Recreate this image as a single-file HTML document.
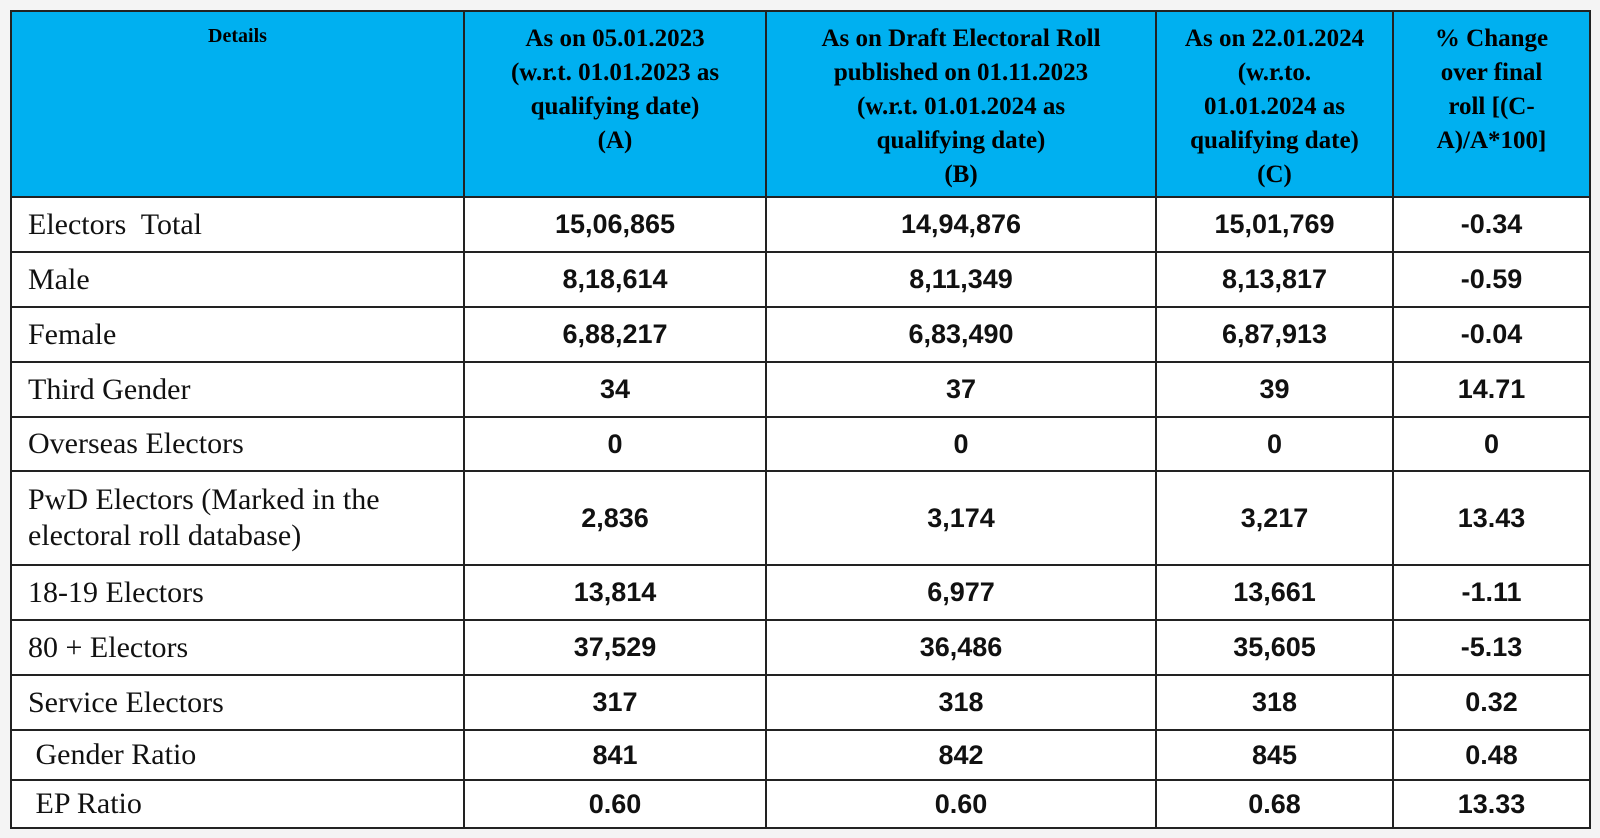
<!DOCTYPE html>
<html><head><meta charset="utf-8"><style>
html,body{margin:0;padding:0;background:#f4f4f4;width:1600px;height:838px;overflow:hidden}
table{position:absolute;left:10px;top:10px;border-collapse:collapse;table-layout:fixed;background:#fff}
td,th{border:2px solid #222;padding:0;box-sizing:border-box}
th{background:#00b0f0;font-family:"Liberation Serif",serif;font-weight:bold;font-size:25px;line-height:34px;vertical-align:top;padding-top:10px;color:#000}
th.d{font-size:20px;line-height:24px;padding-top:12px}
td{font-family:"Liberation Sans",sans-serif;font-weight:bold;font-size:27px;text-align:center;color:#111}
td.l{font-family:"Liberation Serif",serif;font-weight:normal;font-size:30px;text-align:left;padding-left:16px;line-height:36px}
</style></head><body>
<table>
<colgroup><col style="width:453px"><col style="width:302px"><col style="width:390px"><col style="width:237px"><col style="width:197px"></colgroup>
<tr style="height:186px"><th class="d">Details</th><th>As on 05.01.2023<br>(w.r.t. 01.01.2023 as<br>qualifying date)<br>(A)</th><th>As on Draft Electoral Roll<br>published on 01.11.2023<br>(w.r.t. 01.01.2024 as<br>qualifying date)<br>(B)</th><th>As on 22.01.2024<br>(w.r.to.<br>01.01.2024 as<br>qualifying date)<br>(C)</th><th>% Change<br>over final<br>roll [(C-<br>A)/A*100]</th></tr>
<tr style="height:55px"><td class="l">Electors&nbsp; Total</td><td>15,06,865</td><td>14,94,876</td><td>15,01,769</td><td>-0.34</td></tr>
<tr style="height:55px"><td class="l">Male</td><td>8,18,614</td><td>8,11,349</td><td>8,13,817</td><td>-0.59</td></tr>
<tr style="height:55px"><td class="l">Female</td><td>6,88,217</td><td>6,83,490</td><td>6,87,913</td><td>-0.04</td></tr>
<tr style="height:55px"><td class="l">Third Gender</td><td>34</td><td>37</td><td>39</td><td>14.71</td></tr>
<tr style="height:54px"><td class="l">Overseas Electors</td><td>0</td><td>0</td><td>0</td><td>0</td></tr>
<tr style="height:94px"><td class="l">PwD Electors (Marked in the<br>electoral roll database)</td><td>2,836</td><td>3,174</td><td>3,217</td><td>13.43</td></tr>
<tr style="height:55px"><td class="l">18-19 Electors</td><td>13,814</td><td>6,977</td><td>13,661</td><td>-1.11</td></tr>
<tr style="height:55px"><td class="l">80 + Electors</td><td>37,529</td><td>36,486</td><td>35,605</td><td>-5.13</td></tr>
<tr style="height:55px"><td class="l">Service Electors</td><td>317</td><td>318</td><td>318</td><td>0.32</td></tr>
<tr style="height:50px"><td class="l">&nbsp;Gender Ratio</td><td>841</td><td>842</td><td>845</td><td>0.48</td></tr>
<tr style="height:48px"><td class="l">&nbsp;EP Ratio</td><td>0.60</td><td>0.60</td><td>0.68</td><td>13.33</td></tr>
</table>
</body></html>
